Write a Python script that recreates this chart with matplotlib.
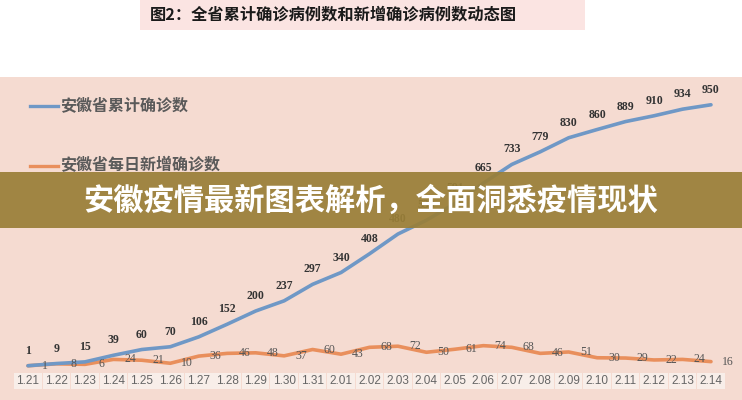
import matplotlib
matplotlib.use("Agg")
import matplotlib.pyplot as plt
from matplotlib.patches import Rectangle
from matplotlib.lines import Line2D

plt.rcParams['font.family'] = ['Noto Sans CJK SC', 'DejaVu Sans']

dates = ["1.21", "1.22", "1.23", "1.24", "1.25", "1.26", "1.27", "1.28", "1.29", "1.30", "1.31",
         "2.01", "2.02", "2.03", "2.04", "2.05", "2.06", "2.07", "2.08", "2.09", "2.10",
         "2.11", "2.12", "2.13", "2.14"]
cumulative = [1, 9, 15, 39, 60, 70, 106, 152, 200, 237, 297, 340, 408, 480, 530, 591,
              665, 733, 779, 830, 860, 889, 910, 934, 950]
daily_new = [1, 8, 6, 24, 21, 10, 36, 46, 48, 37, 60, 43, 68, 72, 50, 61, 74, 68, 46,
             51, 30, 29, 22, 24, 16]

title = "图2：全省累计确诊病例数和新增确诊病例数动态图"
legend_cum = "安徽省累计确诊数"
legend_new = "安徽省每日新增确诊数"
banner = "安徽疫情最新图表解析，全面洞悉疫情现状"

W, H = 742, 400
fig = plt.figure(figsize=(W / 100, H / 100), dpi=100)
fig.patch.set_facecolor("white")

# Chart area
ax = fig.add_axes([0, 0, 1, 323 / H])
ax.set_facecolor("#f5dbd1")
for s in ax.spines.values():
    s.set_visible(False)
ax.set_xticks([])
ax.set_yticks([])
ax.set_xlim(-0.984, 25.09)
ax.set_ylim(-123.6, 1051)

x = list(range(len(dates)))
blue = "#6f98c6"
orange = "#e98f5c"
ax.plot(x, daily_new, color=orange, lw=2.6, solid_capstyle="round", zorder=3)
ax.plot(x, cumulative, color=blue, lw=2.6, solid_capstyle="round", zorder=4)

for i, v in enumerate(cumulative):
    ax.annotate(str(v), (i, v), xytext=(0, 15), textcoords="offset pixels",
                ha="center", va="center", fontsize=8.5, fontweight="bold",
                family="Liberation Serif", color="#333333", zorder=5)
for i, v in enumerate(daily_new):
    ax.annotate(str(v), (i, v), xytext=(17, 0), textcoords="offset pixels",
                ha="center", va="center", fontsize=8.5,
                family="Liberation Serif", color="#555555", zorder=5)

for i, d in enumerate(dates):
    ax.text(i, -54.5, d, ha="center", va="center", fontsize=8.5,
            family="Liberation Sans", color="#666666",
            bbox=dict(boxstyle="square,pad=0.2", fc="#f8eee9", ec="none"))

# Legend
def fy(py):
    return 1 - py / H

fig.add_artist(Line2D([30 / W, 58 / W], [fy(106), fy(106)], color=blue, lw=2.4))
fig.text(60 / W, fy(105), legend_cum, ha="left", va="center", fontsize=11.5,
         fontweight="bold", color="#5a5a5a")
fig.add_artist(Line2D([30 / W, 58 / W], [fy(166), fy(166)], color=orange, lw=2.4))
fig.text(60 / W, fy(165), legend_new, ha="left", va="center", fontsize=11.5,
         fontweight="bold", color="#5a5a5a")

# Title box
fig.add_artist(Rectangle((140 / W, fy(30)), 445 / W, 30 / H, transform=fig.transFigure,
                         fc="#fbe4e2", ec="none"))
fig.text(150 / W, fy(15), title, ha="left", va="center", fontsize=11.7,
         fontweight="bold", color="#1a1a1a")

# Banner overlay
fig.add_artist(Rectangle((0, fy(228)), 1, 56 / H, transform=fig.transFigure,
                         fc="#9a7f38", ec="none", alpha=0.93, zorder=10))
fig.text(0.5, fy(201), banner, ha="center", va="center", fontsize=21.8,
         fontweight="bold", color="white", zorder=11)

fig.savefig("out.png", dpi=100)
